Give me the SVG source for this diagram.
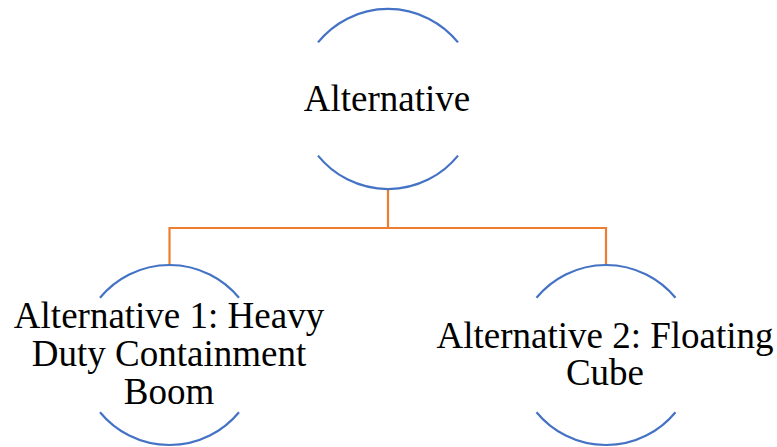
<svg xmlns="http://www.w3.org/2000/svg" width="777" height="447" viewBox="0 0 777 447">
<style>
.arc{fill:none;stroke:#4472C4;stroke-width:2.2}
.con{fill:none;stroke:#ED7D31;stroke-width:2.2}
text{font-family:"Liberation Serif","Times New Roman",serif;font-size:37px;fill:#000;text-anchor:middle}
</style>
<rect width="777" height="447" fill="#fff"/>
<g id="connectors">
<path class="con" d="M388 189 V228"/>
<path class="con" d="M169.5 265 V228 H606 V265"/>
</g>
<g id="node-root">
<path class="arc" d="M318 42.4 A90 90 0 0 1 458 42.4"/>
<path class="arc" d="M318 155.6 A90 90 0 0 0 458 155.6"/>
<text x="387" y="111">Alternative</text>
</g>
<g id="node-alt1">
<path class="arc" d="M100 297.8 A90 90 0 0 1 239 297.8"/>
<path class="arc" d="M100 412.2 A90 90 0 0 0 239 412.2"/>
<text x="169" y="328">Alternative 1: Heavy</text>
<text x="169" y="366">Duty Containment</text>
<text x="169" y="404">Boom</text>
</g>
<g id="node-alt2">
<path class="arc" d="M536.5 297.8 A90 90 0 0 1 675.5 297.8"/>
<path class="arc" d="M536.5 412.2 A90 90 0 0 0 675.5 412.2"/>
<text x="605" y="348">Alternative 2: Floating</text>
<text x="605" y="385">Cube</text>
</g>
</svg>
